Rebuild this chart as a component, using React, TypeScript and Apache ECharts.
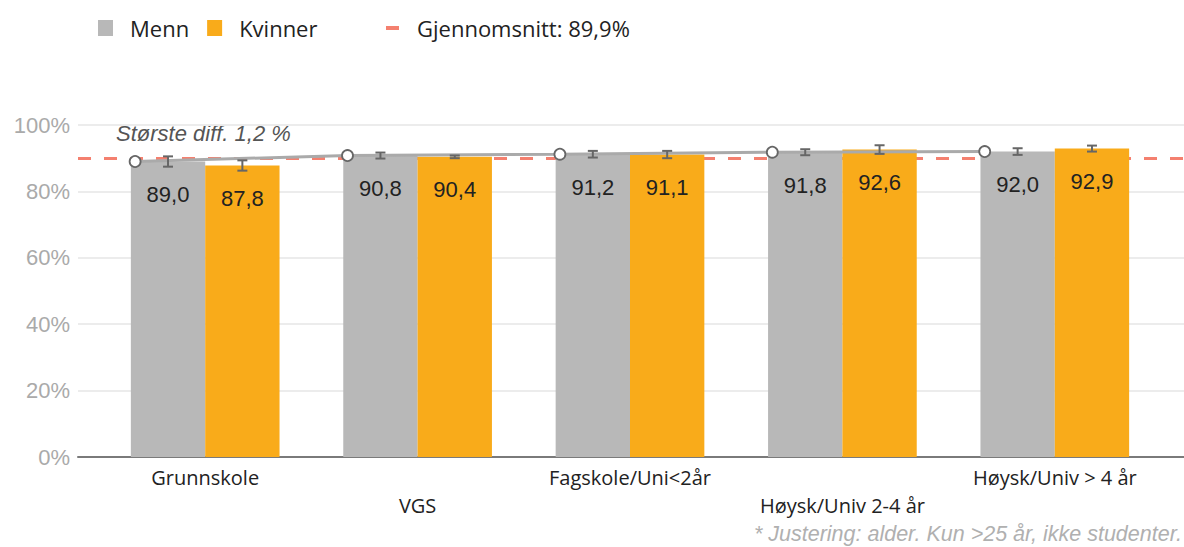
import React, { useEffect, useRef } from "react";
import * as echarts from "echarts";

const categories = ["Grunnskole", "VGS", "Fagskole/Uni<2år", "Høysk/Univ 2-4 år", "Høysk/Univ > 4 år"];
const menn = [89.0, 90.8, 91.2, 91.8, 92.0];
const kvinner = [87.8, 90.4, 91.1, 92.6, 92.9];
const mennErr = [1.55, 0.9, 1.0, 0.9, 1.0];
const kvinnerErr = [1.55, 0.4, 1.1, 1.3, 0.9];
const average = 89.9;
const yTicks = [0, 20, 40, 60, 80, 100];
const avgLabel = "Gjennomsnitt: 89,9%";
const annotation = "Største diff. 1,2 %";
const footnote = "* Justering: alder. Kun >25 år, ikke studenter.";

const fmt = (v: number) => v.toFixed(1).replace(".", ",");
const ARIAL = "'Liberation Sans', Arial, sans-serif";
const OPEN = "'Open Sans', sans-serif";

export default function App() {
  const ref = useRef<HTMLDivElement>(null);
  useEffect(() => {
    document.body.style.margin = "0";
    const chart = echarts.init(ref.current!, null, { renderer: "svg" });
    const errData: number[][] = [];
    menn.forEach((v, i) => errData.push([i, v, mennErr[i], 0]));
    kvinner.forEach((v, i) => errData.push([i, v, kvinnerErr[i], 1]));

    const barLabel = {
      show: true,
      position: "insideTop",
      distance: 22,
      fontFamily: ARIAL,
      fontSize: 22,
      color: "#222",
      formatter: (p: any) => fmt(p.value),
    };

    const option: any = {
      animation: false,
      legend: [
        {
          left: 93,
          top: 12,
          itemWidth: 15,
          itemHeight: 16,
          itemGap: 18,
          data: [
            { name: "Menn", icon: "rect" },
            { name: "Kvinner", icon: "rect" },
          ],
          textStyle: { fontFamily: OPEN, fontSize: 22, color: "#222", padding: [0, 0, 0, 12] },
        },
        {
          left: 381,
          top: 12,
          itemWidth: 13,
          itemHeight: 16,
          data: [{ name: avgLabel, icon: "path://M0,6 L13,6 L13,10 L0,10 Z" }],
          textStyle: { fontFamily: OPEN, fontSize: 22, color: "#222", padding: [0, 0, 0, 13] },
        },
      ],
      grid: [
        { left: 78, right: 0, top: 125, bottom: 90 },
        { left: 99, right: 23, top: 125, bottom: 90 },
      ],
      xAxis: [
        {
          type: "value",
          gridIndex: 0,
          min: 0,
          max: 1,
          axisLine: { show: true, lineStyle: { color: "#7a7a7a", width: 2 } },
          axisTick: { show: false },
          axisLabel: { show: false },
          splitLine: { show: false },
        },
        {
          type: "category",
          gridIndex: 1,
          data: categories,
          axisLine: { show: false },
          axisTick: { show: false },
          axisLabel: {
            margin: 6,
            fontFamily: OPEN,
            fontSize: 20,
            color: "#222",
            lineHeight: 28,
            interval: 0,
            formatter: (v: string, i: number) => (i % 2 === 1 ? "\n" + v : v),
          },
        },
        {
          type: "value",
          gridIndex: 1,
          min: -0.5,
          max: 4.5,
          show: false,
        },
      ],
      yAxis: [
        {
          type: "value",
          gridIndex: 0,
          min: yTicks[0],
          max: yTicks[yTicks.length - 1],
          interval: 20,
          axisLine: { show: false },
          axisTick: { show: false },
          axisLabel: { formatter: "{value}%", fontFamily: ARIAL, fontSize: 22, color: "#aaa", margin: 8 },
          splitLine: { lineStyle: { color: "#ececec", width: 2 } },
        },
        {
          type: "value",
          gridIndex: 1,
          min: 0,
          max: 100,
          show: false,
        },
      ],
      series: [
        {
          name: avgLabel,
          type: "line",
          xAxisIndex: 0,
          yAxisIndex: 0,
          z: 1,
          symbol: "none",
          color: "#F4806F",
          lineStyle: { color: "#F4806F", width: 3, type: [13, 13] },
          data: [
            [0, average],
            [1, average],
          ],
        },
        {
          name: "Menn",
          type: "bar",
          xAxisIndex: 1,
          yAxisIndex: 1,
          barGap: "0%",
          barCategoryGap: "30%",
          color: "#B8B8B8",
          itemStyle: { color: "#B8B8B8" },
          data: menn,
          z: 2,
          label: barLabel,
        },
        {
          name: "Kvinner",
          type: "bar",
          xAxisIndex: 1,
          yAxisIndex: 1,
          color: "#F9AB1A",
          itemStyle: { color: "#F9AB1A" },
          data: kvinner,
          z: 2,
          label: barLabel,
        },
        {
          name: "trend",
          type: "line",
          xAxisIndex: 2,
          yAxisIndex: 1,
          z: 5,
          symbol: "circle",
          symbolSize: 11,
          itemStyle: { color: "#fff", borderColor: "#666", borderWidth: 1.8 },
          lineStyle: { color: "#aaa", width: 3 },
          data: menn.map((v, i) => [i - 0.33, v]),
        },
        {
          name: "err",
          type: "custom",
          xAxisIndex: 1,
          yAxisIndex: 1,
          z: 6,
          data: errData,
          renderItem: (params: any, api: any) => {
            const idx = api.value(0);
            const v = api.value(1);
            const e = api.value(2);
            const side = api.value(3);
            const band = api.size([1, 0])[0];
            const barW = band * 0.35;
            const cx = api.coord([idx, v])[0] + (side === 0 ? -0.5 : 0.5) * barW;
            const yTop = api.coord([idx, v + e])[1];
            const yBot = api.coord([idx, v - e])[1];
            const style = { stroke: "#666", lineWidth: 2 };
            const cap = 5;
            return {
              type: "group",
              children: [
                { type: "line", shape: { x1: cx, y1: yTop, x2: cx, y2: yBot }, style },
                { type: "line", shape: { x1: cx - cap, y1: yTop, x2: cx + cap, y2: yTop }, style },
                { type: "line", shape: { x1: cx - cap, y1: yBot, x2: cx + cap, y2: yBot }, style },
              ],
            };
          },
        },
      ],
      graphic: [
        {
          type: "text",
          left: 116,
          top: 122,
          style: {
            text: annotation,
            fontFamily: ARIAL,
            fontStyle: "italic",
            fontSize: 22,
            fill: "#555",
          },
        },
        {
          type: "text",
          right: 2,
          top: 523,
          style: {
            text: footnote,
            fontFamily: ARIAL,
            fontStyle: "italic",
            fontSize: 21.5,
            fill: "#b0b0b0",
          },
        },
      ],
    };
    chart.setOption(option);
    return () => chart.dispose();
  }, []);
  return <div ref={ref} style={{ width: 1184, height: 547 }} />;
}
